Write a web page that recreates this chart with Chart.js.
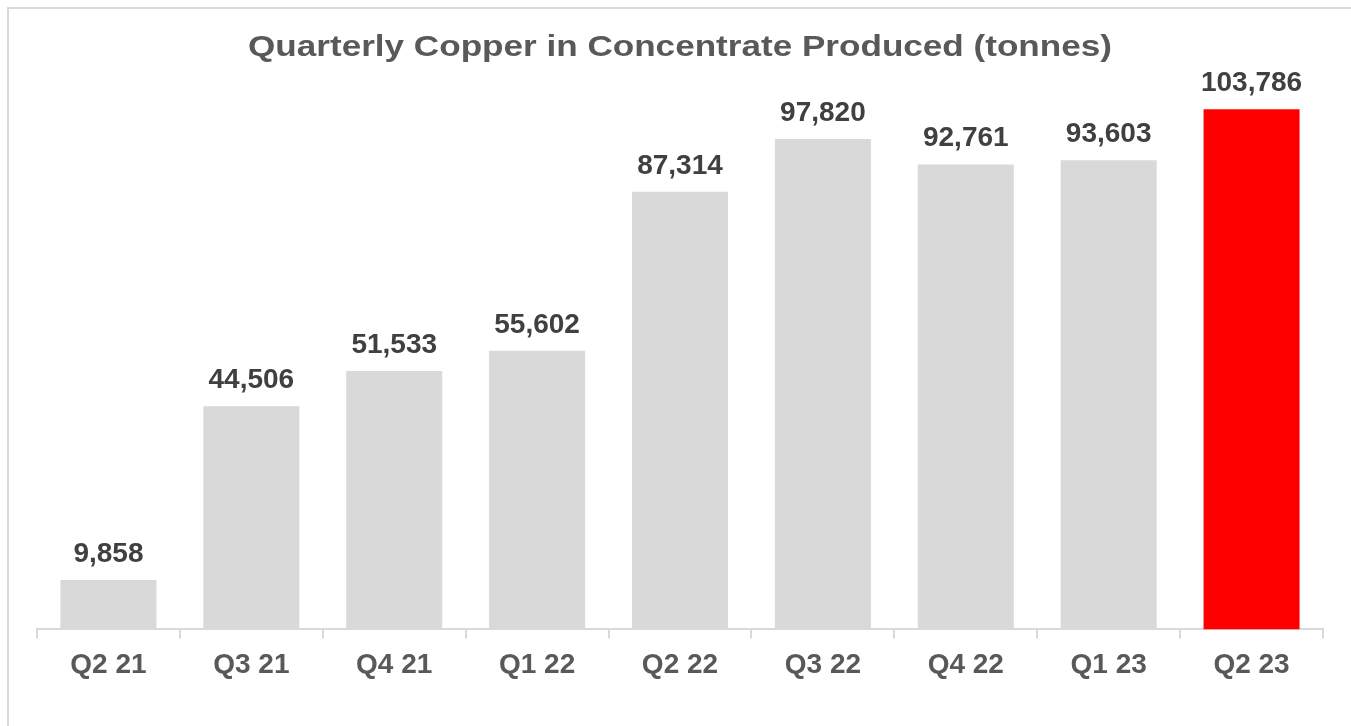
<!DOCTYPE html>
<html>
<head>
<meta charset="utf-8">
<script src="https://cdn.jsdelivr.net/npm/chart.js@4.4.0/dist/chart.umd.min.js"></script>
<style>
  html, body { margin: 0; padding: 0; background: #fff; overflow: hidden; }
  #wrap { position: relative; width: 1351px; height: 726px; }
  #frame { position: absolute; left: 7px; top: 7px; width: 1400px; height: 800px; border: 2px solid #d9d9d9; box-sizing: border-box; }
  #box { position: absolute; left: 0; top: 0; width: 1351px; height: 726px; }
</style>
</head>
<body>
<div id="wrap">
  <div id="frame"></div>
  <div id="box"><canvas id="copperChart"></canvas></div>
</div>
<script>
// Quarterly copper in concentrate (tonnes)
const quarters = ['Q2 21', 'Q3 21', 'Q4 21', 'Q1 22', 'Q2 22', 'Q3 22', 'Q4 22', 'Q1 23', 'Q2 23'];
const tonnes = [9858, 44506, 51533, 55602, 87314, 97820, 92761, 93603, 103786];
const barColors = ['#d9d9d9', '#d9d9d9', '#d9d9d9', '#d9d9d9', '#d9d9d9', '#d9d9d9', '#d9d9d9', '#d9d9d9', '#ff0000'];
const chartTitle = 'Quarterly Copper in Concentrate Produced (tonnes)';

const fontFamily = "Arial, 'Liberation Sans', sans-serif";

// draws the value above every bar
const valueLabels = {
    id: 'valueLabels',
    afterDatasetsDraw(chart) {
        const ctx = chart.ctx;
        const meta = chart.getDatasetMeta(0);
        ctx.save();
        ctx.font = 'bold 28px ' + fontFamily;
        ctx.fillStyle = '#404040';
        ctx.textAlign = 'center';
        ctx.textBaseline = 'alphabetic';
        meta.data.forEach((bar, i) => {
            ctx.fillText(tonnes[i].toLocaleString('en-US'), bar.x, bar.y - 18);
        });
        ctx.restore();
    }
};

// title is a bit wider than plain Arial in the original, so stretch it
const wideTitle = {
    id: 'wideTitle',
    afterDraw(chart) {
        const ctx = chart.ctx;
        const area = chart.chartArea;
        const cx = (area.left + area.right) / 2;
        ctx.save();
        ctx.font = 'bold 30px ' + fontFamily;
        ctx.fillStyle = '#595959';
        ctx.textAlign = 'center';
        ctx.textBaseline = 'middle';
        ctx.translate(cx, 48);
        ctx.scale(1.17, 1);
        ctx.fillText(chartTitle, 0, 0);
        ctx.restore();
    }
};

const copperChart = new Chart(document.getElementById('copperChart'), {
    type: 'bar',
    data: {
        labels: quarters,
        datasets: [{
            label: 'Copper in concentrate',
            data: tonnes,
            backgroundColor: barColors,
            borderWidth: 0,
            categoryPercentage: 1,
            barPercentage: 0.672
        }]
    },
    options: {
        responsive: true,
        maintainAspectRatio: false,
        animation: false,
        layout: {
            padding: { top: 78, bottom: 34, left: 37, right: 28 }
        },
        plugins: {
            legend: { display: false },
            tooltip: { enabled: false },
            title: { display: false }
        },
        scales: {
            y: {
                display: false,
                min: 0,
                max: 110000
            },
            x: {
                offset: true,
                grid: {
                    offset: true,
                    drawOnChartArea: false,
                    drawTicks: true,
                    tickLength: 9,
                    color: '#d9d9d9',
                    lineWidth: 2
                },
                border: { color: '#d9d9d9', width: 2 },
                ticks: {
                    color: '#595959',
                    padding: 10,
                    font: { family: fontFamily, size: 28, weight: 'bold' }
                }
            }
        }
    },
    plugins: [valueLabels, wideTitle]
});
</script>
</body>
</html>
